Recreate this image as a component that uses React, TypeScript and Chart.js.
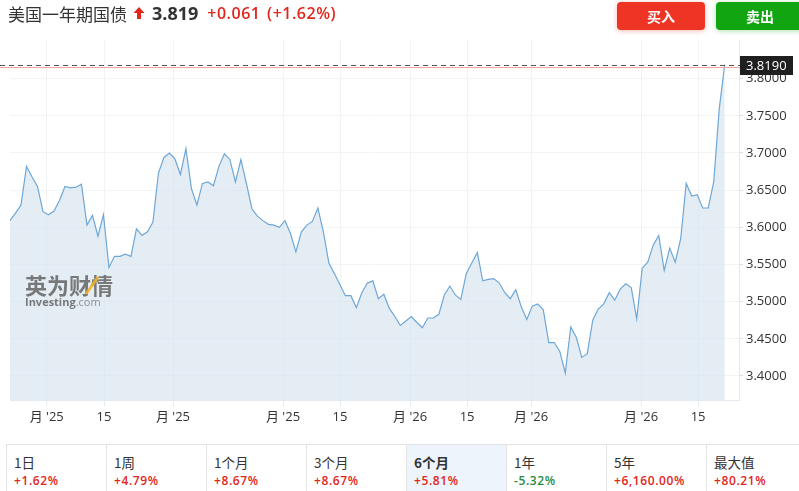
import React, { useEffect, useRef } from "react";
import { Chart, registerables } from "chart.js";

Chart.register(...registerables);

const title = "美国一年期国债";
const lastPrice = 3.819;
const changeAbs = "+0.061";
const changePct = "(+1.62%)";
const askPrice = 3.8153;

const values = [
  3.609, 3.619, 3.63, 3.682, 3.668, 3.655, 3.621, 3.617, 3.622, 3.636,
  3.655, 3.653, 3.654, 3.658, 3.603, 3.616, 3.588, 3.617, 3.546, 3.561,
  3.561, 3.564, 3.561, 3.598, 3.589, 3.594, 3.607, 3.673, 3.694, 3.7,
  3.692, 3.671, 3.706, 3.652, 3.63, 3.659, 3.661, 3.656, 3.682, 3.699,
  3.691, 3.661, 3.691, 3.659, 3.625, 3.615, 3.609, 3.604, 3.603, 3.6,
  3.609, 3.592, 3.567, 3.594, 3.603, 3.608, 3.626, 3.594, 3.552, 3.538,
  3.523, 3.508, 3.508, 3.492, 3.512, 3.525, 3.528, 3.504, 3.51, 3.491,
  3.48, 3.468, 3.474, 3.48, 3.472, 3.465, 3.478, 3.478, 3.483, 3.509,
  3.521, 3.509, 3.503, 3.538, 3.552, 3.566, 3.528, 3.53, 3.531, 3.525,
  3.512, 3.504, 3.516, 3.493, 3.476, 3.494, 3.497, 3.489, 3.445, 3.445,
  3.433, 3.404, 3.466, 3.452, 3.425, 3.43, 3.475, 3.49, 3.497, 3.512,
  3.502, 3.517, 3.524, 3.519, 3.477, 3.545, 3.553, 3.576, 3.589, 3.542,
  3.572, 3.553, 3.585, 3.659, 3.642, 3.644, 3.626, 3.626, 3.661, 3.759,
  3.819,
];

const xTickPositions = [6.68, 17.1, 29.65, 49.66, 60.03, 72.77, 83.14, 94.78, 114.79, 125.16];
const xTickLabels = ["月 '25", "15", "月 '25", "月 '25", "15", "月 '26", "15", "月 '26", "月 '26", "15"];
const xMax = 132.6;

const yTicks = [3.4, 3.45, 3.5, 3.55, 3.6, 3.65, 3.7, 3.75, 3.8];
const yMin = 3.3677;
const yMax = 3.852;

const periods = ["1日", "1周", "1个月", "3个月", "6个月", "1年", "5年", "最大值"];
const periodChanges = ["+1.62%", "+4.79%", "+8.67%", "+8.67%", "+5.81%", "-5.32%", "+6,160.00%", "+80.21%"];
const activePeriod = 4;

const FONT = "'Open Sans', 'Noto Sans CJK SC', sans-serif";

const overlayPlugin = {
  id: "overlay",
  afterDatasetsDraw(chart: any) {
    const { ctx, chartArea } = chart;
    ctx.save();
    ctx.fillStyle = "rgba(90,90,90,0.8)";
    ctx.font = "bold 22px 'Noto Sans CJK SC', sans-serif";
    ctx.textBaseline = "alphabetic";
    ctx.fillText("英为财情", chartArea.left + 15, chartArea.top + 254);
    ctx.strokeStyle = "rgba(240,180,40,0.9)";
    ctx.lineWidth = 3;
    ctx.beginPath();
    ctx.moveTo(chartArea.left + 76, chartArea.top + 254);
    ctx.lineTo(chartArea.left + 88, chartArea.top + 237);
    ctx.stroke();
    ctx.fillStyle = "rgba(90,90,90,0.8)";
    ctx.font = "bold 11px 'Open Sans', sans-serif";
    ctx.fillText("Investing", chartArea.left + 15, chartArea.top + 266);
    const w = ctx.measureText("Investing").width;
    ctx.font = "11px 'Open Sans', sans-serif";
    ctx.fillStyle = "rgba(120,120,120,0.8)";
    ctx.fillText(".com", chartArea.left + 15 + w, chartArea.top + 266);
    ctx.restore();
  },
  afterDraw(chart: any) {
    const { ctx, chartArea, scales } = chart;
    const y = Math.round(scales.y.getPixelForValue(lastPrice)) + 0.5;
    const yr = Math.round(scales.y.getPixelForValue(askPrice)) + 0.5;
    ctx.save();
    ctx.strokeStyle = "#f5a3a3";
    ctx.lineWidth = 1;
    ctx.beginPath();
    ctx.moveTo(0, yr);
    ctx.lineTo(chartArea.right + 2, yr);
    ctx.stroke();
    ctx.strokeStyle = "#555";
    ctx.lineWidth = 1.2;
    ctx.setLineDash([5, 4]);
    ctx.beginPath();
    ctx.moveTo(0, y);
    ctx.lineTo(chartArea.right + 2, y);
    ctx.stroke();
    ctx.setLineDash([]);
    ctx.fillStyle = "#1f1f1f";
    ctx.fillRect(chartArea.right + 1, y - 9.5, 53, 19);
    ctx.fillStyle = "#ffffff";
    ctx.font = "13px " + FONT;
    ctx.textBaseline = "middle";
    ctx.textAlign = "left";
    ctx.fillText(lastPrice.toFixed(4), chartArea.right + 7, y + 1);
    ctx.restore();
  },
};

function PriceChart() {
  const ref = useRef<HTMLCanvasElement | null>(null);
  useEffect(() => {
    if (!ref.current) return;
    const chart = new Chart(ref.current, {
      type: "line",
      data: {
        datasets: [
          {
            data: values.map((v, i) => ({ x: i, y: v })),
            borderColor: "#6ea7d7",
            borderWidth: 1.2,
            backgroundColor: "rgba(214,228,238,0.65)",
            fill: "start",
            pointRadius: 0,
            tension: 0,
          },
        ],
      },
      options: {
        animation: false,
        responsive: false,
        maintainAspectRatio: false,
        events: [],
        layout: { padding: { left: 10, top: 40, right: 0, bottom: 0 } },
        plugins: { legend: { display: false }, tooltip: { enabled: false } },
        scales: {
          x: {
            type: "linear",
            min: 0,
            max: xMax,
            afterBuildTicks: (scale: any) => {
              scale.ticks = xTickPositions.map((v) => ({ value: v }));
            },
            afterFit: (scale: any) => {
              scale.height = 32;
            },
            ticks: {
              autoSkip: false,
              maxRotation: 0,
              padding: 3,
              color: "#333",
              font: { size: 13, family: FONT },
              callback: (_v: any, i: number) => xTickLabels[i],
            },
            grid: { color: "#f1f3f5", tickColor: "#e4eaf0", tickLength: 6 },
            border: { color: "#e4eaf0" },
          },
          y: {
            position: "right",
            min: yMin,
            max: yMax,
            afterBuildTicks: (scale: any) => {
              scale.ticks = yTicks.map((v) => ({ value: v }));
            },
            afterFit: (scale: any) => {
              scale.width = 60;
            },
            ticks: {
              padding: 3,
              color: "#333",
              font: { size: 13, family: FONT },
              callback: (v: any) => Number(v).toFixed(4),
            },
            grid: { color: "#f3f4f6", tickColor: "#d8dde2", tickLength: 4 },
            border: { color: "#e4eaf0" },
          },
        },
      },
      plugins: [overlayPlugin],
    } as any);
    return () => chart.destroy();
  }, []);
  return <canvas ref={ref} width={799} height={432} style={{ position: "absolute", left: 0, top: 0, width: 799, height: 432 }} />;
}

export default function App() {
  useEffect(() => {
    document.body.style.margin = "0";
  }, []);
  return (
    <div style={{ position: "fixed", left: 0, top: 0, width: 799, height: 491, overflow: "hidden", background: "#fff", fontFamily: FONT }}>
      <PriceChart />
      <div style={{ position: "absolute", left: 8, top: 0, height: 26, display: "flex", alignItems: "center", whiteSpace: "nowrap" }}>
        <span style={{ fontSize: 17, color: "#333", fontFamily: "'Noto Sans CJK SC', sans-serif" }}>{title}</span>
        <svg width="12" height="14" viewBox="0 0 12 14" style={{ marginLeft: 6, marginRight: 7 }}>
          <path d="M6 1 L11.5 7 L8 7 L8 13 L4 13 L4 7 L0.5 7 Z" fill="#e1261c" />
        </svg>
        <span style={{ fontSize: 18, fontWeight: 700, color: "#333" }}>{lastPrice.toFixed(3)}</span>
        <span style={{ fontSize: 16, fontWeight: 600, color: "#e1261c", marginLeft: 9, letterSpacing: 0.5, wordSpacing: 2 }}>{changeAbs} {changePct}</span>
      </div>
      <div style={{ position: "absolute", left: 617, top: 2, width: 88, height: 28, background: "#ee3424", borderRadius: 4, boxShadow: "0 1px 5px rgba(238,52,36,0.35)", color: "#fff", fontWeight: 700, fontSize: 14, display: "flex", alignItems: "center", justifyContent: "center", fontFamily: "'Noto Sans CJK SC', sans-serif" }}>买入</div>
      <div style={{ position: "absolute", left: 716, top: 2, width: 88, height: 28, background: "#12a512", borderRadius: 4, boxShadow: "0 1px 5px rgba(18,165,18,0.35)", color: "#fff", fontWeight: 700, fontSize: 14, display: "flex", alignItems: "center", justifyContent: "center", fontFamily: "'Noto Sans CJK SC', sans-serif" }}>卖出</div>
      <div style={{ position: "absolute", left: 6, top: 444, width: 810, height: 47, borderTop: "1px solid #e3e3e3", display: "flex" }}>
        {periods.map((p, i) => {
          const c = periodChanges[i];
          const neg = c.startsWith("-");
          return (
            <div key={p} style={{ width: 100, flex: "0 0 100px", boxSizing: "border-box", borderLeft: "1px solid #e3e3e3", background: i === activePeriod ? "#edf4fb" : "#fff", paddingLeft: 7, paddingTop: 8 }}>
              <div style={{ fontSize: 13.5, color: "#333", fontWeight: i === activePeriod ? 700 : 400, lineHeight: "18px", fontFamily: "'Noto Sans CJK SC', sans-serif" }}>{p}</div>
              <div style={{ fontSize: 12, color: neg ? "#2b8a3e" : "#e1261c", fontWeight: 600, letterSpacing: 0.6, lineHeight: "18px", marginTop: 1 }}>{c}</div>
            </div>
          );
        })}
      </div>
    </div>
  );
}
